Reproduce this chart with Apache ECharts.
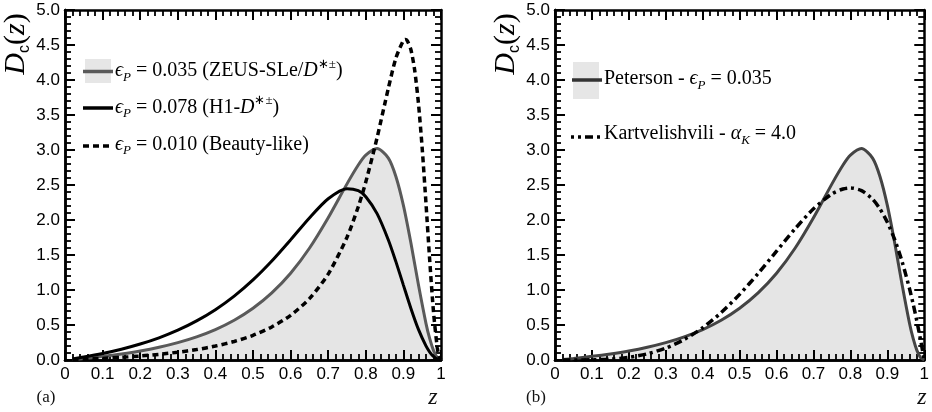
<!DOCTYPE html>
<html>
<head>
<meta charset="utf-8">
<script src="https://cdn.jsdelivr.net/npm/echarts@6/dist/echarts.min.js"></script>
<style>
html,body{margin:0;padding:0;background:#fff;}
#c{width:932px;height:412px;}
</style>
</head>
<body>
<div id="c"></div>
<script>
// ---- data ----
var zA = [0.02,0.05,0.10,0.15,0.20,0.25,0.30,0.35,0.40,0.45,0.50,0.55,0.60,0.65,0.70,0.75,0.78,0.80,0.83,0.86,0.88,0.90,0.92,0.94,0.96,0.97,0.98,0.99,1.00];
var peterson035 = [0.009,0.023,0.052,0.087,0.129,0.182,0.248,0.331,0.435,0.568,0.739,0.958,1.239,1.596,2.032,2.516,2.785,2.926,3.020,2.885,2.622,2.209,1.671,1.074,0.524,0.304,0.138,0.035,0];
var peterson078 = [0.016,0.042,0.093,0.154,0.228,0.317,0.426,0.559,0.719,0.913,1.144,1.414,1.716,2.029,2.303,2.447,2.418,2.333,2.091,1.715,1.405,1.070,0.737,0.437,0.201,0.114,0.051,0.013,0];
var zB = [0.02,0.05,0.10,0.15,0.20,0.25,0.30,0.35,0.40,0.45,0.50,0.55,0.60,0.65,0.70,0.75,0.78,0.80,0.83,0.86,0.88,0.90,0.905,0.91,0.92,0.93,0.94,0.95,0.96,0.97,0.98,0.99,0.995,1.00];
var peterson010 = [0.004,0.010,0.023,0.038,0.057,0.081,0.111,0.149,0.199,0.265,0.352,0.472,0.638,0.877,1.227,1.753,2.190,2.544,3.176,3.883,4.313,4.567,4.580,4.564,4.432,4.140,3.668,3.022,2.243,1.423,0.690,0.181,0.046,0];
var kart40 = [0.000,0.000,0.003,0.013,0.038,0.088,0.170,0.293,0.461,0.677,0.938,1.235,1.555,1.874,2.161,2.373,2.443,2.458,2.420,2.297,2.159,1.968,1.719,1.405,1.019,0.797,0.553,0.288,0];
var xTicks = {min:0, max:1, interval:0.1};
var yTicks = {min:0, max:5, interval:0.5};

function pts(xs, ys){ return xs.map(function(x,i){ return [x, ys[i]]; }); }

var chart = echarts.init(document.getElementById('c'), null, {renderer:'canvas'});

var frameColor = '#000';
var sans = 'Liberation Sans, Arial, sans-serif';
var serif = 'Liberation Serif, Times New Roman, serif';
function xFmt(v){ var r=Math.round(v*10)/10; return (r===0)?'0':(r===1)?'1':r.toFixed(1); }
function yFmt(v){ return (Math.round(v*10)/10).toFixed(1); }

function axis(kind, grid, pos, labels){
  var t = kind==='x' ? xTicks : yTicks;
  return {
    type:'value', gridIndex:grid, position:pos, min:t.min, max:t.max, interval:t.interval,
    axisLine:{show:true, onZero:false, lineStyle:{color:frameColor, width:2.5}},
    axisTick:{show:!labels, inside:true, length:10, lineStyle:{color:frameColor, width:2}},
    minorTick:{show:!labels, splitNumber:5, length:6, lineStyle:{color:frameColor, width:1.8}},
    splitLine:{show:false},
    axisLabel:{show:labels, margin:kind==='x'?6:5, color:'#000', fontSize:17, fontFamily:sans,
      formatter: kind==='x' ? xFmt : yFmt}
  };
}

var legRich = {
  n:{fontFamily:serif, fontSize:20, color:'#111', lineHeight:26},
  i:{fontFamily:serif, fontSize:20, fontStyle:'italic', color:'#111', lineHeight:26},
  sub:{fontFamily:serif, fontSize:13, fontStyle:'italic', color:'#111', verticalAlign:'bottom', lineHeight:17},
  sup:{fontFamily:serif, fontSize:13, color:'#111', verticalAlign:'top', lineHeight:17}
};
var titleRich = {
  i:{fontFamily:serif, fontSize:30, fontStyle:'italic', color:'#111', lineHeight:34},
  n:{fontFamily:serif, fontSize:30, color:'#111', lineHeight:34},
  c:{fontFamily:sans, fontSize:16, color:'#111', verticalAlign:'bottom', lineHeight:22}
};
var fillCol = 'rgba(0,0,0,0.1)';

var option = {
  animation:false,
  backgroundColor:'#fff',
  grid:[
    {left:65, right:491, top:10, bottom:52},
    {left:555, right:4, top:10, bottom:52}
  ],
  xAxis:[ axis('x',0,'bottom',true), axis('x',0,'bottom',false), axis('x',0,'top',false),
          axis('x',1,'bottom',true), axis('x',1,'bottom',false), axis('x',1,'top',false) ],
  yAxis:[ axis('y',0,'left',true), axis('y',0,'left',false), axis('y',0,'right',false),
          axis('y',1,'left',true), axis('y',1,'left',false), axis('y',1,'right',false) ],
  series:[
    {type:'line', xAxisIndex:0, yAxisIndex:0, data:pts(zA,peterson035), showSymbol:false, smooth:0.25, z:2,
      lineStyle:{color:'#5a5a5a', width:3}, areaStyle:{color:fillCol, opacity:1}},
    {type:'line', xAxisIndex:0, yAxisIndex:0, data:pts(zA,peterson078), showSymbol:false, smooth:0.25, z:3,
      lineStyle:{color:'#000', width:3}},
    {type:'line', xAxisIndex:0, yAxisIndex:0, data:pts(zB,peterson010), showSymbol:false, smooth:0.25, z:4,
      lineStyle:{color:'#000', width:3.5, type:[6,4]}},
    {type:'line', xAxisIndex:3, yAxisIndex:3, data:pts(zA,peterson035), showSymbol:false, smooth:0.25, z:2,
      lineStyle:{color:'#444', width:3}, areaStyle:{color:fillCol, opacity:1}},
    {type:'line', xAxisIndex:3, yAxisIndex:3, data:pts(zA,kart40), showSymbol:false, smooth:0.25, z:4,
      lineStyle:{color:'#000', width:3.5, type:[8,4,3,4]}}
  ],
  graphic:[
    {type:'text', x:16, y:44, rotation:Math.PI/2, z:10,
      style:{text:'{i|D}{c|c}{n|(}{i|z}{n|)}', align:'center', verticalAlign:'middle', rich:titleRich}},
    {type:'text', x:506, y:44, rotation:Math.PI/2, z:10,
      style:{text:'{i|D}{c|c}{n|(}{i|z}{n|)}', align:'center', verticalAlign:'middle', rich:titleRich}},
    {type:'text', x:433, y:398, z:10, style:{text:'z', fontFamily:serif, fontStyle:'italic', fontSize:24, fill:'#111', align:'center', verticalAlign:'middle'}},
    {type:'text', x:922, y:398, z:10, style:{text:'z', fontFamily:serif, fontStyle:'italic', fontSize:24, fill:'#111', align:'center', verticalAlign:'middle'}},
    {type:'text', x:46, y:398, z:10, style:{text:'(a)', fontFamily:serif, fontSize:17, fill:'#111', align:'center', verticalAlign:'middle'}},
    {type:'text', x:536, y:398, z:10, style:{text:'(b)', fontFamily:serif, fontSize:17, fill:'#111', align:'center', verticalAlign:'middle'}},
    {type:'rect', z:10, shape:{x:85, y:59, width:26, height:24}, style:{fill:'#e6e6e6'}},
    {type:'line', z:11, shape:{x1:83, y1:71.5, x2:113, y2:71.5}, style:{stroke:'#5a5a5a', lineWidth:3.5}},
    {type:'text', z:11, x:115, y:71, style:{text:'{i|ϵ}{sub|P}{n| = 0.035 (ZEUS-SLe/}{i|D}{sup|∗±}{n|)}', verticalAlign:'middle', rich:legRich}},
    {type:'line', z:11, shape:{x1:83, y1:108, x2:113, y2:108}, style:{stroke:'#000', lineWidth:3.5}},
    {type:'text', z:11, x:115, y:107.5, style:{text:'{i|ϵ}{sub|P}{n| = 0.078 (H1-}{i|D}{sup|∗±}{n|)}', verticalAlign:'middle', rich:legRich}},
    {type:'line', z:11, shape:{x1:83, y1:146, x2:113, y2:146}, style:{stroke:'#000', lineWidth:3.5, lineDash:[6,4]}},
    {type:'text', z:11, x:115, y:144.5, style:{text:'{i|ϵ}{sub|P}{n| = 0.010 (Beauty-like)}', verticalAlign:'middle', rich:legRich}},
    {type:'rect', z:10, shape:{x:573, y:62, width:26, height:37}, style:{fill:'#e6e6e6'}},
    {type:'line', z:11, shape:{x1:572, y1:80, x2:602, y2:80}, style:{stroke:'#333', lineWidth:3.5}},
    {type:'text', z:11, x:604, y:79, style:{text:'{n|Peterson - }{i|ϵ}{sub|P}{n| = 0.035}', verticalAlign:'middle', rich:legRich}},
    {type:'line', z:11, shape:{x1:571, y1:137, x2:601, y2:137}, style:{stroke:'#000', lineWidth:3.5, lineDash:[3,4,3,4,8,4]}},
    {type:'text', z:11, x:604, y:134, style:{text:'{n|Kartvelishvili - }{i|α}{sub|K}{n| = 4.0}', verticalAlign:'middle', rich:legRich}}
  ]
};
chart.setOption(option);
</script>
</body>
</html>
